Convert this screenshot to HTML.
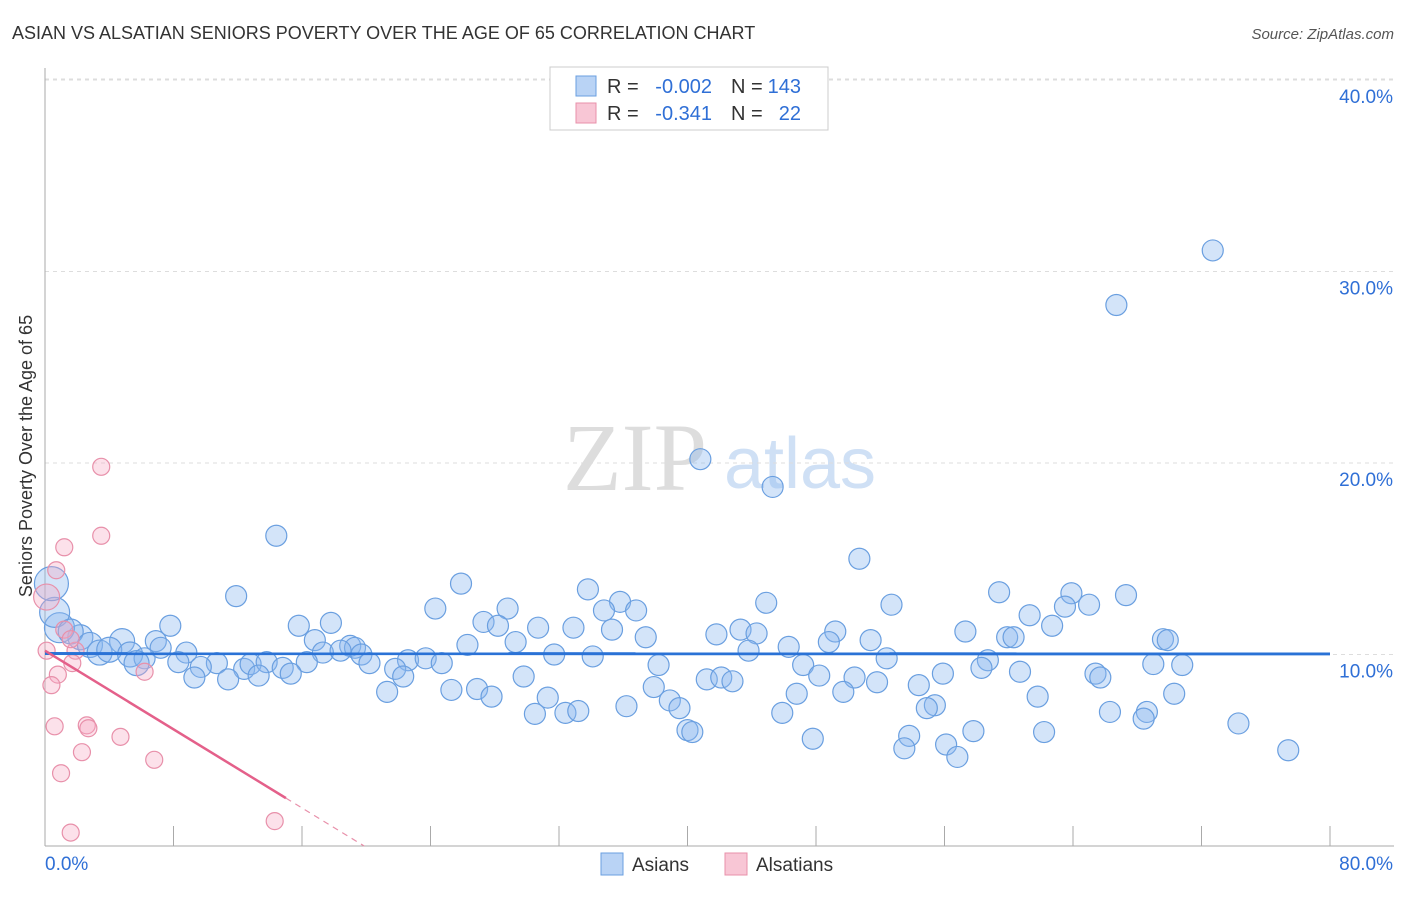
<!DOCTYPE html>
<html><head><meta charset="utf-8"><style>
body{margin:0;background:#fff;font-family:"Liberation Sans",sans-serif}
svg text{font-family:"Liberation Sans",sans-serif}
</style></head><body>
<svg id="c" width="1406" height="892">
<text x="12" y="39" font-size="18" fill="#333">ASIAN VS ALSATIAN SENIORS POVERTY OVER THE AGE OF 65 CORRELATION CHART</text>
<text x="1394" y="39" font-size="15" fill="#555" font-style="italic" text-anchor="end">Source: ZipAtlas.com</text>
<text x="32" y="456" font-size="18" fill="#333" text-anchor="middle" transform="rotate(-90 32 456)">Seniors Poverty Over the Age of 65</text>
<g><text x="635" y="490" font-size="96" fill="#ddd" text-anchor="middle" style="font-family:'Liberation Serif',serif">ZIP</text><text x="800" y="488" font-size="72" fill="#cfe0f5" text-anchor="middle">atlas</text></g>
<g id="grid"></g><g id="axes"></g><g id="marks"></g><g id="lines"></g>
<g>
<rect x="550" y="67" width="278" height="63" fill="#fff" stroke="#ccc"/>
<rect x="576" y="76" width="20" height="20" fill="#b9d3f5" stroke="#6a9fe0"/>
<rect x="576" y="103" width="20" height="20" fill="#f8c6d5" stroke="#e890aa"/>
<text x="607" y="93" font-size="20" fill="#333">R =</text>
<text x="712" y="93" font-size="20" fill="#2f6fd6" text-anchor="end">-0.002</text>
<text x="731" y="93" font-size="20" fill="#333">N =</text>
<text x="801" y="93" font-size="20" fill="#2f6fd6" text-anchor="end">143</text>
<text x="607" y="120" font-size="20" fill="#333">R =</text>
<text x="712" y="120" font-size="20" fill="#2f6fd6" text-anchor="end">-0.341</text>
<text x="731" y="120" font-size="20" fill="#333">N =</text>
<text x="801" y="120" font-size="20" fill="#2f6fd6" text-anchor="end">22</text>
</g>
<g>
<rect x="601" y="853" width="22" height="22" fill="#b9d3f5" stroke="#6a9fe0"/>
<text x="632" y="871" font-size="19" fill="#333">Asians</text>
<rect x="725" y="853" width="22" height="22" fill="#f8c6d5" stroke="#e890aa"/>
<text x="756" y="871" font-size="19" fill="#333">Alsatians</text>
</g>
</svg>
<script>
const yTicks=[10,20,30,40];
const yTickLabels=["10.0%","20.0%","30.0%","40.0%"];
const xTickLabels=["0.0%","80.0%"];
const asianX=[72.7,66.7,40.8,45.3,14.4,50.7,25.9,33.8,11.9,59.4,63.9,67.3,35.8,44.9,52.7,63.5,65.0,24.3,28.8,34.8,36.8,61.3,27.3,28.2,7.8,15.8,17.8,62.7,30.7,32.9,35.3,43.3,49.2,57.3,41.8,44.3,37.4,59.9,60.3,69.6,69.9,51.4,48.8,29.3,16.8,26.3,46.3,19.0,19.3,4.8,6.9,2.2,0.9,0.6,0.4,1.6,2.8,3.4,4.0,5.3,7.2,8.8,17.3,18.4,19.7,22.6,23.7,31.7,34.1,43.8,52.4,58.7,6.2,5.7,8.3,10.7,9.7,12.4,12.8,13.8,14.8,16.3,20.2,21.8,24.7,38.2,47.2,70.8,69.0,15.3,13.3,11.4,9.3,22.3,29.8,41.2,42.1,42.8,48.2,50.4,51.8,55.9,58.3,60.7,65.4,65.7,21.3,25.3,26.9,37.9,46.8,49.7,54.4,70.3,27.8,31.3,38.9,61.8,36.2,39.5,55.4,54.9,30.5,32.4,33.2,45.9,66.3,68.6,68.4,74.3,40.0,40.3,57.8,62.2,53.8,47.8,56.1,53.5,56.8,77.4];
const asianY=[31.1,28.25,20.2,18.75,16.2,15.0,13.7,13.4,13.05,13.25,13.2,13.1,12.75,12.7,12.6,12.5,12.6,12.4,12.4,12.3,12.3,12.05,11.7,11.5,11.5,11.5,11.65,11.5,11.4,11.4,11.3,11.3,11.2,11.2,11.05,11.1,10.9,10.9,10.9,10.8,10.75,10.75,10.65,10.65,10.75,10.5,10.4,10.45,10.35,10.7,10.7,10.9,11.4,12.2,13.7,11.2,10.5,10.1,10.25,10.0,10.35,10.1,10.1,10.2,10.0,9.7,9.8,10.0,9.9,10.2,9.8,9.7,9.8,9.55,9.6,9.55,9.35,9.25,9.5,9.6,9.3,9.6,9.55,9.25,9.55,9.45,9.45,9.45,9.5,9.0,8.9,8.7,8.8,8.85,8.85,8.7,8.8,8.6,8.9,8.8,8.55,9.0,9.3,9.1,9.0,8.8,8.05,8.15,8.2,8.3,7.95,8.05,8.4,7.95,7.8,7.75,7.6,7.8,7.3,7.2,7.35,7.2,6.9,6.95,7.05,6.95,7.0,7.0,6.65,6.4,6.05,5.95,6.0,5.95,5.75,5.6,5.3,5.1,4.65,5.0];
const alsX=[3.5,3.5,1.2,0.7,0.1,0.1,1.9,1.7,6.2,0.8,0.4,0.6,2.6,2.7,4.7,2.3,6.8,1.0,14.3,1.6,1.2,1.6];
const alsY=[19.8,16.2,15.6,14.4,13.0,10.2,10.2,9.55,9.1,8.95,8.4,6.25,6.3,6.15,5.7,4.9,4.5,3.8,1.3,0.7,11.3,10.8];
const asianTrend=[10.05,10.03];
const alsTrend=[10.2,2.5];
const NS='http://www.w3.org/2000/svg';
const X0=45,X1=1330,Y0=846,YS=19.15;
const xs=v=>X0+v*(X1-X0)/80, ys=v=>Y0-v*YS;
function mk(t,a,p){const e=document.createElementNS(NS,t);for(const k in a)e.setAttribute(k,a[k]);document.getElementById(p).appendChild(e);return e;}
yTicks.forEach((t,i)=>{
 const g=mk('line',{x1:X0,x2:1394,y1:ys(t),y2:ys(t),stroke:'#ddd','stroke-dasharray':'4,4'},'grid');
 
 
 const l=mk('text',{x:1393,y:ys(t)+23,'font-size':19,fill:'#2f6fd6','text-anchor':'end'},'axes');
 l.textContent=yTickLabels[i];
 
 
});
const topLine=mk('line',{x1:X0,x2:1394,y1:79,y2:79,stroke:'#ddd','stroke-dasharray':'4,4'},'grid');


const ya=mk('line',{x1:X0,x2:X0,y1:68,y2:846,stroke:'#aaa'},'axes');


const xa=mk('line',{x1:X0,x2:1394,y1:846,y2:846,stroke:'#aaa'},'axes');


for(let i=1;i<=10;i++){const t=mk('line',{x1:xs(i*8),x2:xs(i*8),y1:826,y2:846,stroke:'#aaa'},'axes');
 
 }
[[0,45,'start'],[80,1393,'end']].forEach((d,i)=>{const l=mk('text',{x:d[1],y:870,'font-size':19,fill:'#2f6fd6','text-anchor':d[2]},'axes');l.textContent=xTickLabels[i];
 
 });
asianX.forEach((x,i)=>{const r=x<1.2?(asianY[i]>13?17:15):(x<6?12.5:10.5);
 const c=mk('circle',{cx:xs(x),cy:ys(asianY[i]),r:r,fill:'rgba(140,185,240,0.38)',stroke:'#6a9fe0','stroke-width':1.2},'marks');
 
 });
alsX.forEach((x,i)=>{const r=x<0.2&&alsY[i]>12?13:8.5;
 const c=mk('circle',{cx:xs(x),cy:ys(alsY[i]),r:r,fill:'rgba(245,170,195,0.35)',stroke:'#e890aa','stroke-width':1.2},'marks');
 
 });
const bl=mk('line',{x1:xs(0),x2:xs(80),y1:ys(asianTrend[0]),y2:ys(asianTrend[1]),stroke:'#2a72d6','stroke-width':3},'lines');


const slope=(alsTrend[1]-alsTrend[0])/15;
const pl=mk('line',{x1:xs(0),x2:xs(15),y1:ys(alsTrend[0]),y2:ys(alsTrend[1]),stroke:'#e4608a','stroke-width':2.5},'lines');


const xe=-alsTrend[0]/slope;
const pd=mk('line',{x1:xs(15),x2:xs(xe),y1:ys(alsTrend[1]),y2:ys(0),stroke:'#e890aa','stroke-width':1.2,'stroke-dasharray':'6,5'},'lines');


</script>
</body></html>
